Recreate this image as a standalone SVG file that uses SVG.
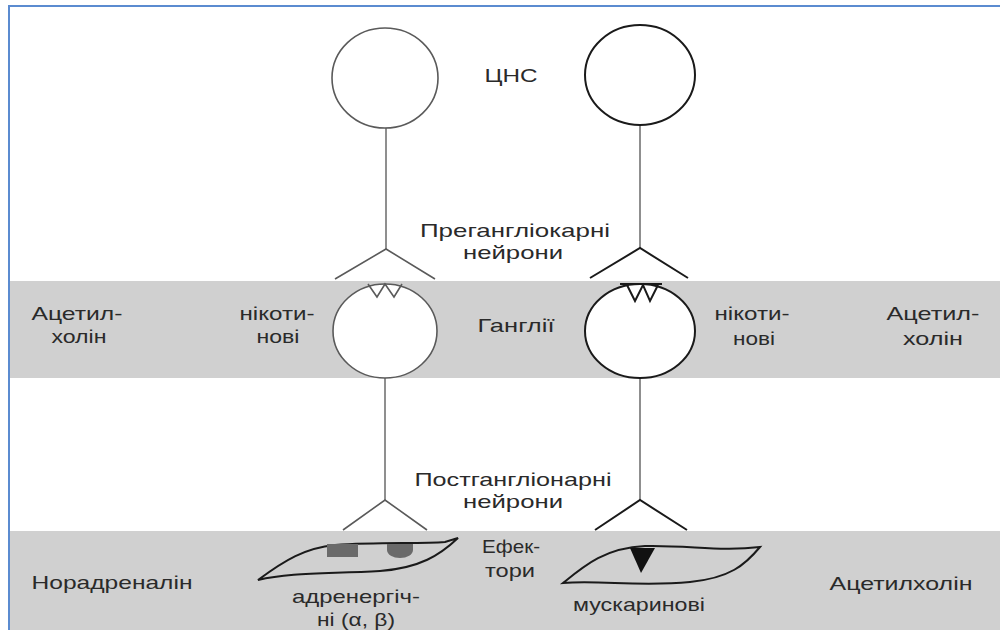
<svg xmlns="http://www.w3.org/2000/svg" width="1000" height="630" viewBox="0 0 1000 630">
<style>
.t{font-family:"Liberation Sans",Arial,sans-serif;font-size:19px;fill:#2a2a2a;text-anchor:middle}
.ln{fill:none;stroke:#5a5a5a;stroke-width:1.6}
.lnd{fill:none;stroke:#1a1a1a;stroke-width:2}
.ax{fill:none;stroke:#6a6a6a;stroke-width:1.5}
.cell{fill:#ffffff}
.band{fill:#d0d0d0}
</style>
<rect x="0" y="0" width="1000" height="630" fill="#ffffff"/>
<rect class="band" x="10" y="281" width="990" height="97"/>
<rect class="band" x="10" y="531" width="990" height="99"/>
<path d="M9,630 V6 H1000" fill="none" stroke="#5b8bd0" stroke-width="2"/>

<g id="connectors">
  <path class="ax" d="M386,128 V249"/>
  <path class="ln" d="M335,279 L386,249 L435,279"/>
  <path class="ax" d="M640,125 V248"/>
  <path class="lnd" d="M590,278 L640,248 L688,278"/>
  <path class="ax" d="M385,378 V500"/>
  <path class="ln" d="M343,530 L385,500 L427,530"/>
  <path class="ax" d="M640,378 V500"/>
  <path class="lnd" d="M595,530 L640,500 L687,530"/>
</g>

<g id="cns-left"><ellipse class="ln cell" cx="385" cy="78" rx="53" ry="50"/></g>
<g id="cns-right"><ellipse class="lnd cell" cx="640" cy="75" rx="55" ry="50"/></g>

<g id="ganglion-left">
  <ellipse class="ln cell" cx="385" cy="331" rx="52" ry="47"/>
  <path class="ln" d="M368,284 L377,297 L385,284 L394,297 L402,284"/>
</g>
<g id="ganglion-right">
  <ellipse class="lnd cell" cx="640" cy="331" rx="55" ry="47"/>
  <path class="lnd" d="M620,284 H662 M627,285 L635,301 L643,285 L650,301 L658,285"/>
</g>

<g id="effector-left">
  <path class="lnd" d="M258,580 C285,560 305,548 335,545 C380,542 420,544 445,542 L458,538 C440,555 420,568 380,571 C330,574 290,572 258,580 Z"/>
  <rect x="327" y="544" width="31" height="13" fill="#6a6a6a"/>
  <path d="M387,544 H413 V550 A13,8 0 0 1 387,550 Z" fill="#6a6a6a"/>
</g>
<g id="effector-right">
  <path class="lnd" d="M563,583 C585,565 605,548 645,546 C690,545 720,552 760,547 C745,565 730,578 690,582 C640,587 600,580 563,583 Z"/>
  <path d="M630,548 L655,548 L641,573 Z" fill="#111"/>
</g>

<g id="labels">
  <text class="t" x="511" y="82" textLength="53" lengthAdjust="spacingAndGlyphs">ЦНС</text>
  <text class="t" x="515" y="237" textLength="190" lengthAdjust="spacingAndGlyphs">Прегангліокарні</text>
  <text class="t" x="513" y="259" textLength="100" lengthAdjust="spacingAndGlyphs">нейрони</text>
  <text class="t" x="77" y="320" textLength="91" lengthAdjust="spacingAndGlyphs">Ацетил-</text>
  <text class="t" x="79" y="343" textLength="55" lengthAdjust="spacingAndGlyphs">холін</text>
  <text class="t" x="277" y="320" textLength="75" lengthAdjust="spacingAndGlyphs">нікоти-</text>
  <text class="t" x="278" y="343" textLength="43" lengthAdjust="spacingAndGlyphs">нові</text>
  <text class="t" x="516" y="332" textLength="77" lengthAdjust="spacingAndGlyphs">Ганглії</text>
  <text class="t" x="752" y="320" textLength="75" lengthAdjust="spacingAndGlyphs">нікоти-</text>
  <text class="t" x="754" y="345" textLength="42" lengthAdjust="spacingAndGlyphs">нові</text>
  <text class="t" x="933" y="320" textLength="93" lengthAdjust="spacingAndGlyphs">Ацетил-</text>
  <text class="t" x="933" y="345" textLength="60" lengthAdjust="spacingAndGlyphs">холін</text>
  <text class="t" x="513" y="486" textLength="197" lengthAdjust="spacingAndGlyphs">Постгангліонарні</text>
  <text class="t" x="513" y="508" textLength="100" lengthAdjust="spacingAndGlyphs">нейрони</text>
  <text class="t" x="511" y="553" textLength="58" lengthAdjust="spacingAndGlyphs">Ефек-</text>
  <text class="t" x="510" y="577" textLength="50" lengthAdjust="spacingAndGlyphs">тори</text>
  <text class="t" x="112" y="589" textLength="161" lengthAdjust="spacingAndGlyphs">Норадреналін</text>
  <text class="t" x="901" y="590" textLength="143" lengthAdjust="spacingAndGlyphs">Ацетилхолін</text>
  <text class="t" x="356" y="603" textLength="128" lengthAdjust="spacingAndGlyphs">адренергіч-</text>
  <text class="t" x="356" y="626" textLength="78" lengthAdjust="spacingAndGlyphs">ні (α, β)</text>
  <text class="t" x="639" y="611" textLength="132" lengthAdjust="spacingAndGlyphs">мускаринові</text>
</g>
</svg>
